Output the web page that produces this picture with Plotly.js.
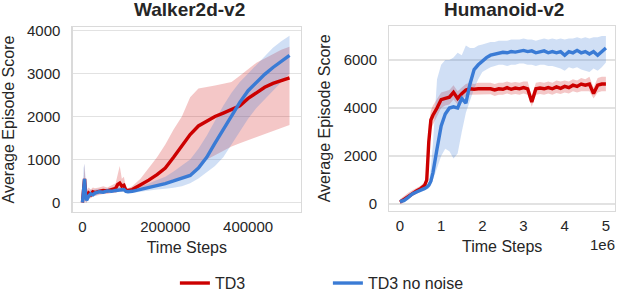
<!DOCTYPE html>
<html>
<head>
<meta charset="utf-8">
<script src="https://cdn.plot.ly/plotly-3.0.1.min.js"></script>
<style>html,body{margin:0;padding:0;background:#fff;}#chart{width:618px;height:294px;}</style>
</head>
<body>
<div id="chart"></div>
<script>
// ---------- Walker2d-v2 ----------
const walkerSteps = [0,2500,5000,7500,10000,15000,20000,25000,30000,40000,50000,60000,70000,80000,85000,90000,95000,100000,105000,110000,120000,140000,160000,180000,200000,220000,240000,260000,280000,300000,320000,340000,360000,380000,400000,420000,440000,460000,480000,500000];
const walkerTD3Mean = [0,350,550,200,100,220,180,250,230,260,280,270,300,330,420,450,380,400,280,280,300,400,520,650,800,1050,1320,1580,1780,1900,2000,2080,2160,2250,2420,2560,2680,2770,2840,2900];
const walkerTD3Low = [0,0,150,0,0,100,100,150,150,180,200,200,220,220,250,280,250,280,230,240,250,300,330,370,420,480,560,650,800,1000,1100,1200,1300,1380,1450,1520,1600,1670,1740,1800];
const walkerTD3High = [0,700,900,400,300,350,300,350,330,350,380,350,400,450,650,850,550,600,350,330,380,550,800,1050,1350,1700,2000,2450,2650,2680,2720,2760,2800,2950,3100,3250,3350,3450,3550,3620];
const walkerNoNoiseMean = [0,450,550,150,50,150,200,180,220,250,240,270,260,280,290,300,290,300,260,250,260,300,350,400,440,500,560,630,800,1050,1380,1700,2020,2330,2600,2800,2980,3140,3290,3420];
const walkerNoNoiseLow = [0,100,200,0,0,80,120,130,160,200,200,220,220,240,250,250,250,260,220,220,220,250,280,300,320,340,380,450,560,700,850,1050,1350,1650,1950,2200,2400,2600,2800,3000];
const walkerNoNoiseHigh = [0,800,900,350,200,250,300,280,300,320,300,330,320,340,350,360,340,350,310,290,310,370,440,520,600,720,850,1000,1250,1550,1900,2250,2550,2800,3000,3200,3400,3600,3750,3880];

// ---------- Humanoid-v2 ----------
const humanoidSteps = [0,1e5,2e5,3e5,4e5,5e5,6e5,6.5e5,7e5,7.5e5,8e5,9e5,1e6,1.1e6,1.2e6,1.3e6,1.4e6,1.5e6,1.6e6,1.7e6,1.8e6,1.9e6,2e6,2.1e6,2.2e6,2.3e6,2.4e6,2.5e6,2.6e6,2.7e6,2.8e6,2.9e6,3e6,3.1e6,3.2e6,3.3e6,3.4e6,3.5e6,3.6e6,3.7e6,3.8e6,3.9e6,4e6,4.1e6,4.2e6,4.3e6,4.4e6,4.5e6,4.6e6,4.7e6,4.8e6,4.9e6,5e6];
const humanoidTD3Mean = [80,200,330,450,540,640,780,1000,2600,3500,3700,4000,4350,4400,4450,4650,4400,4600,4750,4800,4780,4800,4800,4780,4800,4750,4800,4780,4850,4780,4830,4800,4850,4800,4250,4800,4830,4800,4850,4800,4880,4820,4900,4850,4950,4900,5000,4950,5000,4600,4950,5000,5000];
const humanoidTD3Low = [0,80,200,330,420,520,650,800,1900,3100,3300,3650,4000,4100,4150,4350,4150,4350,4500,4550,4550,4550,4550,4550,4570,4500,4550,4550,4600,4550,4580,4550,4600,4550,4050,4550,4580,4550,4600,4550,4620,4580,4650,4600,4700,4650,4700,4700,4700,4400,4650,4700,4700];
const humanoidTD3High = [200,350,470,570,660,760,920,1300,3300,3900,4100,4350,4650,4700,4750,4950,4700,4850,5000,5050,5000,5050,5050,5050,5050,5000,5050,5050,5100,5050,5080,5050,5100,5100,4500,5050,5080,5050,5100,5050,5150,5100,5150,5100,5200,5150,5250,5200,5300,4850,5250,5300,5300];
const humanoidNoNoiseMean = [100,150,280,420,500,560,650,700,780,950,1300,2300,3250,3750,4000,4050,4000,4400,4200,5000,5600,5800,5950,6100,6200,6250,6300,6320,6300,6350,6330,6380,6400,6350,6380,6300,6350,6380,6300,6350,6300,6350,6200,6350,6300,6400,6300,6350,6250,6350,6200,6350,6500];
const humanoidNoNoiseLow = [0,50,180,330,420,480,560,600,650,780,1000,1500,2000,2300,2200,1900,2100,3000,3800,4300,4800,5200,5500,5600,5700,5750,5800,5800,5750,5800,5800,5850,5850,5800,5800,5750,5800,5800,5750,5750,5700,5650,5550,5700,5650,5700,5600,5550,5500,5650,5550,5700,5900];
const humanoidNoNoiseHigh = [200,250,380,500,580,640,750,800,900,1500,2500,5200,5800,6000,6000,6100,6300,6200,6600,6500,6500,6600,6650,6700,6750,6750,6800,6800,6800,6850,6850,6850,6900,6850,6850,6800,6850,6900,6850,6900,6850,6900,6850,6900,6900,6950,6900,6950,6900,6950,6950,7000,7000];

const walkerTicks = [0,200000,400000];
const walkerTickText = ['0','200000','400000'];
const walkerYTicks = [0,1000,2000,3000,4000];
const humanoidTicks = [0,1e6,2e6,3e6,4e6,5e6];
const humanoidTickText = ['0','1','2','3','4','5'];
const humanoidYTicks = [0,2000,4000,6000];

const RED = '#cc0000', BLUE = '#3a7bd5';
const RED_FILL = 'rgba(204,0,0,0.22)', BLUE_FILL = 'rgba(58,123,213,0.24)';

function band(x, lo, hi, fill, xa, ya) {
  return [
    {x:x, y:lo, type:'scatter', mode:'lines', line:{width:0, color:fill}, hoverinfo:'skip', showlegend:false, xaxis:xa, yaxis:ya},
    {x:x, y:hi, type:'scatter', mode:'lines', line:{width:0, color:fill}, fill:'tonexty', fillcolor:fill, hoverinfo:'skip', showlegend:false, xaxis:xa, yaxis:ya}
  ];
}
function meanLine(x, y, color, name, xa, ya, show) {
  return {x:x, y:y, type:'scatter', mode:'lines', name:name, line:{width:3.4, color:color}, showlegend:show, xaxis:xa, yaxis:ya};
}

const data = [].concat(
  band(walkerSteps, walkerTD3Low, walkerTD3High, RED_FILL, 'x', 'y'),
  band(walkerSteps, walkerNoNoiseLow, walkerNoNoiseHigh, BLUE_FILL, 'x', 'y'),
  [meanLine(walkerSteps, walkerTD3Mean, RED, 'TD3', 'x', 'y', true),
   meanLine(walkerSteps, walkerNoNoiseMean, BLUE, 'TD3 no noise', 'x', 'y', true)],
  band(humanoidSteps, humanoidTD3Low, humanoidTD3High, RED_FILL, 'x2', 'y2'),
  band(humanoidSteps, humanoidNoNoiseLow, humanoidNoNoiseHigh, BLUE_FILL, 'x2', 'y2'),
  [meanLine(humanoidSteps, humanoidTD3Mean, RED, 'TD3', 'x2', 'y2', false),
   meanLine(humanoidSteps, humanoidNoNoiseMean, BLUE, 'TD3 no noise', 'x2', 'y2', false)]
);

const FRAME = '#dadada', GRID = '#e2e2e2', TXT = '#262626';
const baseX = {showgrid:false, zeroline:false, showline:true, mirror:true, linecolor:FRAME, linewidth:1.3,
  ticks:'', ticklabelstandoff:1, tickfont:{size:15, color:TXT}, fixedrange:true,
  title:{text:'Time Steps', font:{size:16, color:TXT}, standoff:7}};
const baseY = {showgrid:true, gridcolor:GRID, gridwidth:1.2, zeroline:false, showline:true, mirror:true, linecolor:FRAME, linewidth:1.3,
  ticks:'', ticklabelstandoff:8, tickfont:{size:15, color:TXT}, fixedrange:true,
  title:{text:'Average Episode Score', font:{size:16, color:TXT}, standoff:9}};

const layout = {
  width:618, height:294,
  margin:{l:0, r:0, t:0, b:0, autoexpand:false},
  paper_bgcolor:'#ffffff', plot_bgcolor:'#ffffff',
  font:{family:'"Liberation Sans", Arial, sans-serif', color:TXT},
  xaxis:Object.assign({}, baseX, {domain:[0.1176,0.4871], anchor:'y', range:[-23700,527800], tickvals:walkerTicks, ticktext:walkerTickText}),
  yaxis:Object.assign({}, baseY, {domain:[0.280,0.907], anchor:'x', range:[-214,4074], tickvals:walkerYTicks}),
  xaxis2:Object.assign({}, baseX, {domain:[0.630,0.9951], anchor:'y2', range:[-258000,5220000], tickvals:humanoidTicks, ticktext:humanoidTickText}),
  yaxis2:Object.assign({}, baseY, {domain:[0.2833,0.9116], anchor:'x2', range:[-279,7417], tickvals:humanoidYTicks}),
  showlegend:true,
  legend:{orientation:'h', traceorder:'normal', x:0.283, xanchor:'left', y:0.037, yanchor:'middle', font:{size:16, color:TXT},
    entrywidth:108, entrywidthmode:'pixels', bgcolor:'rgba(0,0,0,0)', borderwidth:0},
  annotations:[
    {text:'<b>Walker2d-v2</b>', xref:'paper', yref:'paper', x:0.306, y:0.966, xanchor:'center', yanchor:'middle', showarrow:false, font:{size:19, color:TXT}},
    {text:'<b>Humanoid-v2</b>', xref:'paper', yref:'paper', x:0.815, y:0.966, xanchor:'center', yanchor:'middle', showarrow:false, font:{size:19, color:TXT}},
    {text:'1e6', xref:'paper', yref:'paper', x:0.999, y:0.168, xanchor:'right', yanchor:'middle', showarrow:false, font:{size:15, color:TXT}}
  ]
};

Plotly.newPlot('chart', data, layout, {displayModeBar:false, staticPlot:true});
</script>
</body>
</html>
